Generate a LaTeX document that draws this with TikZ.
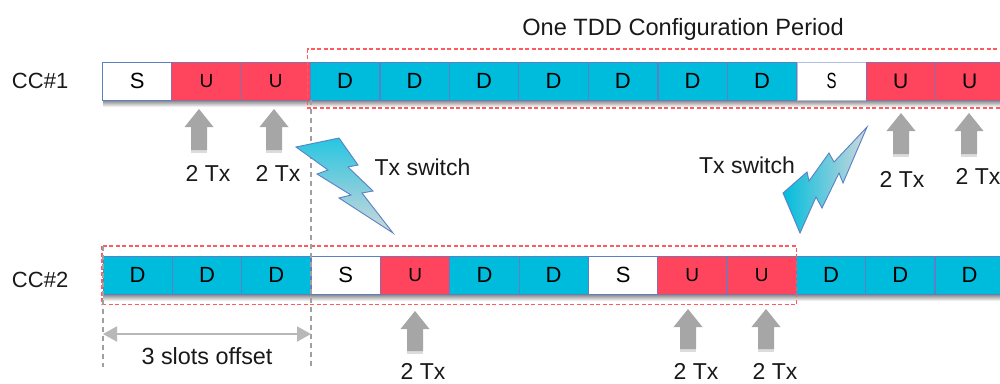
\documentclass[tikz,border=0pt]{standalone}
\usepackage{fontspec}
\setmainfont{Liberation Sans}
\usetikzlibrary{arrows.meta}
\definecolor{cellD}{HTML}{00BCDC}
\definecolor{cellU}{HTML}{FF455E}
\definecolor{cellEdge}{HTML}{5B80C4}
\definecolor{redDash}{HTML}{FF5A5F}
\definecolor{grayArrow}{HTML}{A6A6A6}
\definecolor{grayDash}{HTML}{A0A0A0}
\definecolor{boltEnd}{HTML}{D0D8DC}
\newcommand{\fpx}[1]{\fontsize{#1}{#1}\selectfont}
\tikzset{
  x=1pt,y=-1pt,
  cell/.style={draw=cellEdge,line width=.9pt,anchor=north west,minimum width=69.3pt,minimum height=38pt,inner sep=0pt,outer sep=0pt,text=black,font=\fpx{22}},
  cellS/.style={cell,fill=white},
  cellU/.style={cell,fill=cellU,draw=cellEdge!70!cellU},
  cellD/.style={cell,fill=cellD},
  lab/.style={inner sep=0pt,outer sep=0pt,text=black!90,font=\fpx{23}},
  period/.style={draw=redDash,line width=1.4pt,dash pattern=on 4pt off 2.5pt},
  guide/.style={draw=grayDash,line width=1.3pt,dash pattern=on 5pt off 4pt},
  bolt/.style={draw=cellEdge,line width=.9pt,line join=miter},
  barshadow/.style={top color=black!50,bottom color=white,draw=none},
}
\newcommand{\uparr}[3]{%
  \fill[black!30,opacity=.45] (#1-8,#2+20) -- (#1+8,#2+20) -- (#1+8,#3+3) -- (#1-8,#3+3) -- cycle;
  \fill[grayArrow] (#1,#2) -- (#1+14.5,#2+18) -- (#1+8,#2+18) -- (#1+8,#3) -- (#1-8,#3) -- (#1-8,#2+18) -- (#1-14.5,#2+18) -- cycle;
}
\begin{document}
\begin{tikzpicture}
\useasboundingbox (0,0) rectangle (1000,383);
\clip (0,0) rectangle (1000,383);
% bar shadows
\fill[barshadow] (103,100) rectangle (1000,107);
\fill[barshadow] (103,294) rectangle (1000,301);
% row 1
\node[cellS] (aa) at (102.5,62) {S};
\node[cellU,font=\fpx{19}] (ab) at (171.8,62) {U};
\node[cellU,font=\fpx{19}] (ac) at (241.1,62) {U};
\node[cellD] (ad) at (310.4,62) {D};
\node[cellD] (ae) at (380,62) {D};
\node[cellD] (af) at (449.5,62) {D};
\node[cellD] (ag) at (518.8,62) {D};
\node[cellD] (ah) at (588.1,62) {D};
\node[cellD] (ai) at (658,62) {D};
\node[cellD] (aj) at (727.3,62) {D};
\node[cellS,draw=cellEdge!50] (ak) at (797,62) {\scalebox{.68}[1]{S}};
\node[cellU,font=\fpx{21}] (al) at (866,62) {U};
\node[cellU,font=\fpx{21}] (am) at (935,62) {U};
% row 2
\node[cellD] (ba) at (103,256) {D};
\node[cellD] (bb) at (172.3,256) {D};
\node[cellD] (bc) at (241.6,256) {D};
\node[cellS] (bd) at (311,256) {S};
\node[cellU,font=\fpx{19}] (be) at (380.5,256) {U};
\node[cellD] (bf) at (449.8,256) {D};
\node[cellD] (bg) at (519,256) {D};
\node[cellS] (bh) at (588.5,256) {S};
\node[cellU,font=\fpx{19}] (bi) at (657.5,256) {U};
\node[cellU,font=\fpx{19}] (bj) at (727,256) {U};
\node[cellD] (bk) at (796.3,256) {D};
\node[cellD] (bl) at (865.6,256) {D};
\node[cellD] (bm) at (935,256) {D};
% period frames
\draw[period] (1010,49) -- (307.5,49) -- (307.5,108) -- (1010,108);
\draw[period] (102,246) rectangle (796.5,304.5);
% guides and offset
\coordinate (gla) at (103,246);
\coordinate (glb) at (103,367);
\coordinate (gra) at (311,100);
\coordinate (grb) at (311,367);
\draw[guide] (gla) -- (glb);
\draw[guide] (gra) -- (grb);
\coordinate (ol) at (103,334);
\coordinate (or) at (311,334);
\draw[draw=grayArrow!80,line width=2pt,{Triangle[length=14pt,width=15pt]}-{Triangle[length=14pt,width=15pt]}] (ol) -- (or);
% up arrows
\uparr{199}{109}{150}
\uparr{274}{109}{150}
\uparr{901}{113}{154}
\uparr{969}{113}{154}
\uparr{415}{311}{351}
\uparr{688}{309}{349}
\uparr{766}{309}{349}
% bolts
\path[bolt,top color=cellD!85!white,bottom color=boltEnd,middle color=cellD!40!boltEnd]
 (296,147) -- (339,138) -- (358,165) -- (348,167) -- (373,191) -- (362,193) -- (393,233) -- (339,198) -- (351,195) -- (317,174) -- (328,170) -- cycle;
\path[bolt,left color=cellD,right color=boltEnd]
 (783,193) -- (807,172) -- (809,181) -- (829,153) -- (834,162) -- (867,127) -- (843,183) -- (839,173) -- (822,208) -- (816,197) -- (800,233) -- cycle;
% labels
\node[lab,font=\fpx{23.6}] (title) at (683,29.5) {One TDD Configuration Period};
\node[lab,anchor=west,font=\fpx{22}] (cca) at (12,81) {CC\#1};
\node[lab,anchor=west,font=\fpx{22}] (ccb) at (12,280) {CC\#2};
\node[lab] (swa) at (422.5,167) {Tx switch};
\node[lab] (swb) at (747,165) {Tx switch};
\node[lab] (txa) at (208,173) {2 Tx};
\node[lab] (txb) at (278,173) {2 Tx};
\node[lab] (txc) at (902,179) {2 Tx};
\node[lab] (txd) at (978,176) {2 Tx};
\node[lab] (txe) at (423,371) {2 Tx};
\node[lab] (txf) at (696,371) {2 Tx};
\node[lab] (txg) at (775,371) {2 Tx};
\node[lab,font=\fpx{23.4}] (off) at (207,356) {3 slots offset};
\end{tikzpicture}
\end{document}
